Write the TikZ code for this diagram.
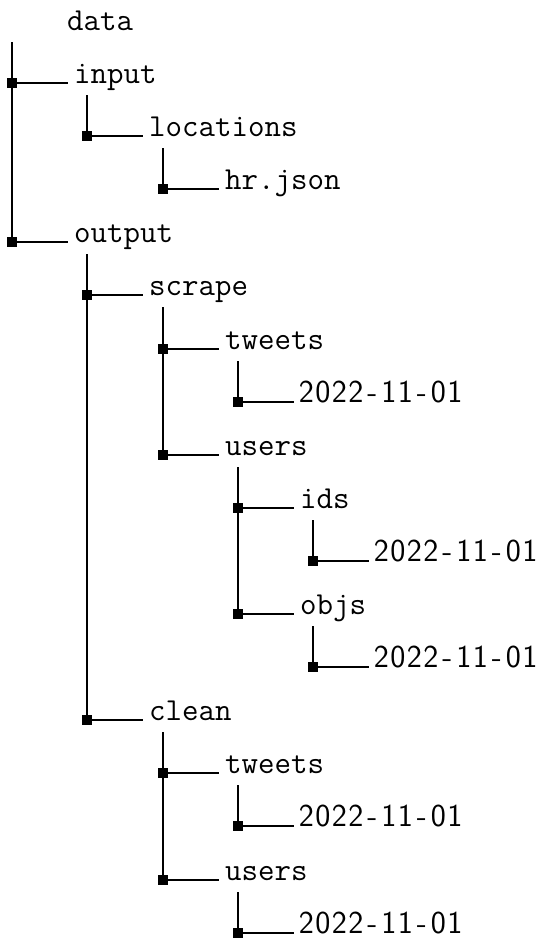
\documentclass[tikz,border=0pt]{standalone}
\tikzset{
  lbl/.style={anchor=base west, inner xsep=6pt, inner ysep=0pt, font=\fontsize{32}{36}\selectfont\ttfamily},
  dlbl/.style={anchor=base west, inner xsep=4pt, inner ysep=0pt, font=\fontsize{32}{36}\selectfont\sffamily},
  conn/.style={line width=2pt},
  sq/.style={rectangle, fill=black, draw=none, minimum size=10pt, inner sep=0pt}
}
\newcommand\fwd[1]{\fwdaux#1\relax}
\def\fwdaux#1{\ifx\relax#1\else\makebox[16.5pt]{#1}\expandafter\fwdaux\fi}
% name, level, row, text, style
\newcommand\tentry[5]{%
  \coordinate (j#1) at ({round(12+75.25*#2)},{round(29.9+53.1*#3)});
  \node[#5] (#1) at ({round(12+75.25*#2)+56},{round(29.9+53.1*#3)}) {#4};
  \draw[conn] (j#1) -- (#1.base west);
  \node[sq] (sq#1) at (j#1) {};
}
% parent-name, child level, parent row, last child
\newcommand\tvert[4]{%
  \coordinate (v#1) at ({round(12+75.25*#2)},{round(29.9+53.1*#3)+12});
  \draw[conn] (v#1) -- (j#4);
}
\begin{document}
\begin{tikzpicture}[x=1pt,y=-1pt]
\useasboundingbox (0,0) rectangle (537,940);
\node[lbl] (data) at (61,30) {data};
\tentry{input}{0}{1}{input}{lbl}
\tentry{locations}{1}{2}{locations}{lbl}
\tentry{hrjson}{2}{3}{hr.json}{lbl}
\tentry{output}{0}{4}{output}{lbl}
\tentry{scrape}{1}{5}{scrape}{lbl}
\tentry{stweets}{2}{6}{tweets}{lbl}
\tentry{sd}{3}{7}{\fwd{2022-11-01}}{dlbl}
\tentry{susers}{2}{8}{users}{lbl}
\tentry{ids}{3}{9}{ids}{lbl}
\tentry{idsd}{4}{10}{\fwd{2022-11-01}}{dlbl}
\tentry{objs}{3}{11}{objs}{lbl}
\tentry{objsd}{4}{12}{\fwd{2022-11-01}}{dlbl}
\tentry{clean}{1}{13}{clean}{lbl}
\tentry{ctweets}{2}{14}{tweets}{lbl}
\tentry{ctd}{3}{15}{\fwd{2022-11-01}}{dlbl}
\tentry{cusers}{2}{16}{users}{lbl}
\tentry{cud}{3}{17}{\fwd{2022-11-01}}{dlbl}
\tvert{data}{0}{0}{output}
\tvert{input}{1}{1}{locations}
\tvert{locations}{2}{2}{hrjson}
\tvert{output}{1}{4}{clean}
\tvert{scrape}{2}{5}{susers}
\tvert{stweets}{3}{6}{sd}
\tvert{susers}{3}{8}{objs}
\tvert{ids}{4}{9}{idsd}
\tvert{objs}{4}{11}{objsd}
\tvert{clean}{2}{13}{cusers}
\tvert{ctweets}{3}{14}{ctd}
\tvert{cusers}{3}{16}{cud}
\end{tikzpicture}
\end{document}
